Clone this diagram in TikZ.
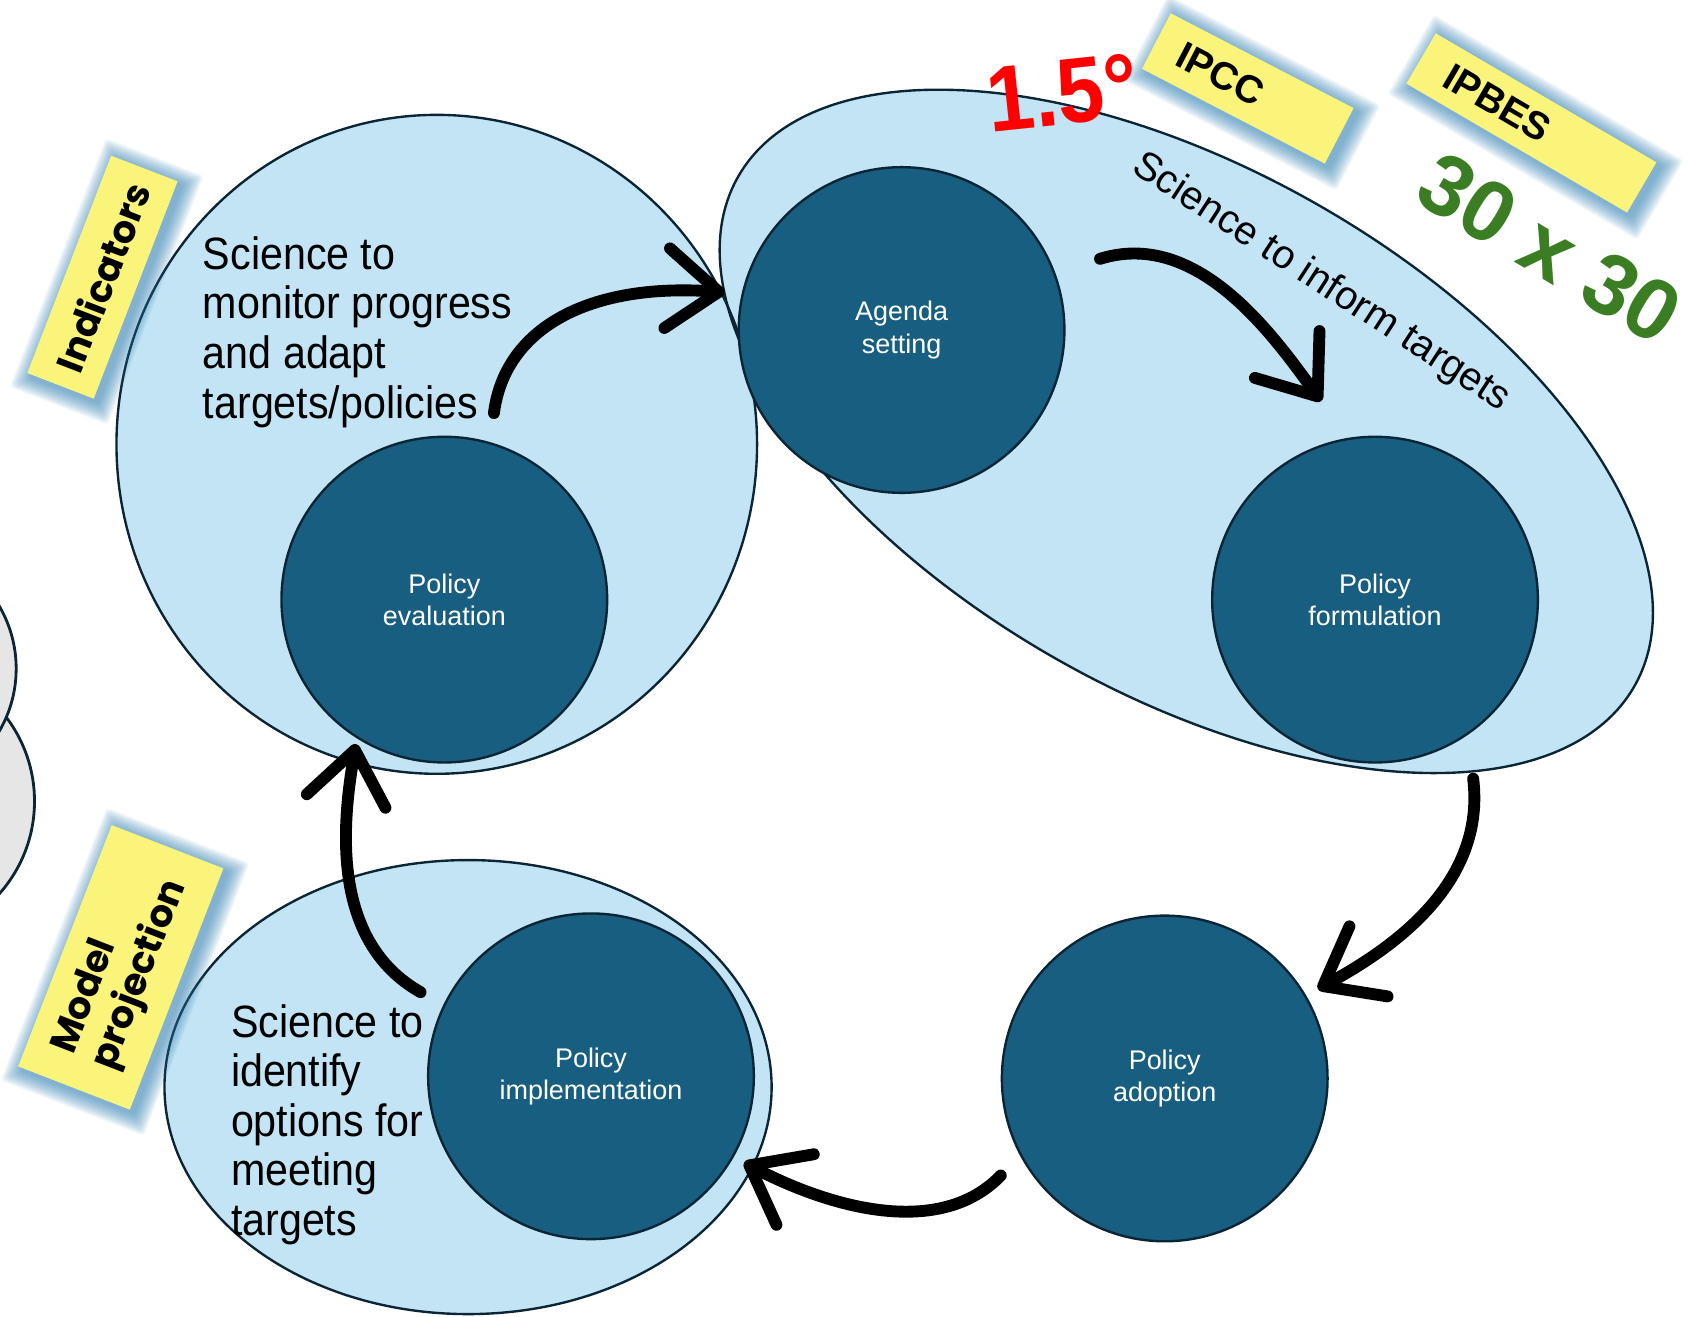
\documentclass[tikz,border=0pt]{standalone}
\usepackage{fontspec}
\setmainfont{Liberation Sans}
\newfontfamily\narrowsans{Liberation Sans}[FakeStretch=0.91]
\newfontfamily\popfont{Poppins}
\usetikzlibrary{shapes.geometric, arrows.meta}
\definecolor{lightfill}{HTML}{C2E4F4}
\definecolor{darkfill}{HTML}{185E80}
\definecolor{edgecol}{HTML}{0B2535}
\definecolor{stickyyellow}{HTML}{FAF47A}
\definecolor{glowblue}{HTML}{2A7BAE}
\definecolor{graycirc}{HTML}{E6E6E6}
\definecolor{greentext}{HTML}{3A7D22}
\tikzset{
 bigfill/.style={ellipse, fill=lightfill, inner sep=0pt, outer sep=0pt},
 bigline/.style={ellipse, draw=edgecol, line width=2.2pt, inner sep=0pt, outer sep=0pt},
 graydisc/.style={circle, fill=graycirc, draw=edgecol, line width=2.6pt, inner sep=0pt},
 stage/.style={circle, fill=darkfill, draw=edgecol, line width=2.2pt, minimum size=302pt, inner sep=0pt, text=white, align=center, font=\fontsize{25}{30}\selectfont},
 sciencetext/.style={anchor=north west, inner sep=0pt, align=left, font=\narrowsans\fontsize{42}{46}\selectfont},
 sticky/.style={rectangle, fill=stickyyellow, inner sep=0pt},
 flow/.style={line width=11pt, line cap=round, -{Straight Barb[length=48pt, width=74pt, round]}},
}
\newcommand{\stickylabel}[8]{%
 \begin{scope}[shift={(#2+4,#3+4)}, rotate=#4]
  \foreach \k in {1,...,12} {
   \fill[glowblue, opacity=0.07, rounded corners=3pt] ({-#5/2-\k*1.3},{-#6/2-\k*1.3}) rectangle ({#5/2+\k*1.3},{#6/2+\k*1.3});
  }
 \end{scope}
 \node[sticky, minimum width=#5pt, minimum height=#6pt, rotate=#4, #7] (#1) at (#2,#3) {#8};
}
\begin{document}
\begin{tikzpicture}[x=1pt, y=-1pt]
\useasboundingbox (0,0) rectangle (1568,1221);
\clip (0,0) rectangle (1568,1221);
% partial gray discs at the left edge
\node[graydisc, minimum size=258pt] (grayb) at (-97,743) {};
\node[graydisc, minimum size=230pt] (graya) at (-100,620) {};
% light blue areas: fills first, then outlines
\node[bigfill, minimum width=594pt, minimum height=611pt] (monfill) at (405,412) {};
\node[bigfill, minimum width=956pt, minimum height=486pt, rotate=-29.6] (informfill) at (1100,400) {};
\node[bigfill, minimum width=563pt, minimum height=421pt] (optfill) at (434,1008) {};
\node[bigline, minimum width=594pt, minimum height=611pt] (monell) at (405,412) {};
\node[bigline, minimum width=956pt, minimum height=486pt, rotate=-29.6] (informell) at (1100,400) {};
\node[bigline, minimum width=563pt, minimum height=421pt] (optell) at (434,1008) {};
% policy stages
\node[stage] (agenda) at (836,306) {Agenda\\setting};
\node[stage] (formulation) at (1275,556) {Policy\\formulation};
\node[stage] (adoption) at (1080,1000) {Policy\\adoption};
\node[stage] (implementation) at (548,998) {Policy\\implementation};
\node[stage] (evaluation) at (412,556) {Policy\\evaluation};
% science texts
\node[sciencetext] (monitortext) at (188,219) {Science to\\monitor progress\\and adapt\\targets/policies};
\node[sciencetext] (optionstext) at (214,931) {Science to\\identify\\options for\\meeting\\targets};
\node[rotate=-33, inner sep=0pt, font=\fontsize{37}{40}\selectfont] (informtext) at (1225,262) {Science to inform targets};
% sticky labels
\stickylabel{indicators}{95}{257}{68.9}{216}{66}{font=\popfont\bfseries\fontsize{35}{38}\selectfont}{Indicators}
\stickylabel{modelproj}{112}{897}{68.8}{240}{111}{align=left, font=\popfont\bfseries\fontsize{35}{40}\selectfont}{Model\\projection}
\stickylabel{ipcc}{1157}{82}{-27.4}{191}{58}{text width=143pt, inner xsep=24pt, align=left, font=\bfseries\fontsize{36}{40}\selectfont}{IPCC}
\stickylabel{ipbes}{1420}{114}{-30.3}{237}{54}{text width=181pt, inner xsep=28pt, align=left, font=\bfseries\fontsize{36}{40}\selectfont}{IPBES}
% targets
\node[text=red, rotate=6, inner sep=0pt, font=\narrowsans\bfseries\fontsize{86}{86}\selectfont] (onefive) at (985,86) {1.5°};
\node[text=greentext, rotate=-31, inner sep=0pt, font=\bfseries\fontsize{80}{80}\selectfont] (thirty) at (1437,230) {30 x 30};
% cycle arrows
\coordinate (a1s) at (458,383); \coordinate (a1e) at (672,271);
\coordinate (a2s) at (1020,240); \coordinate (a2e) at (1225,372);
\coordinate (a3s) at (1366,722); \coordinate (a3e) at (1222,917);
\coordinate (a4s) at (928,1090); \coordinate (a4e) at (690,1078);
\coordinate (a5s) at (390,920); \coordinate (a5e) at (330,690);
\draw[flow] (a1s) .. controls (468,305) and (545,262) .. (a1e);
\draw[flow] (a2s) .. controls (1110,212) and (1180,310) .. (a2e);
\draw[flow] (a3s) .. controls (1378,820) and (1290,880) .. (a3e);
\draw[flow] (a4s) .. controls (868,1152) and (760,1115) .. (a4e);
\draw[flow] (a5s) .. controls (305,872) and (318,760) .. (a5e);
\end{tikzpicture}
\end{document}
